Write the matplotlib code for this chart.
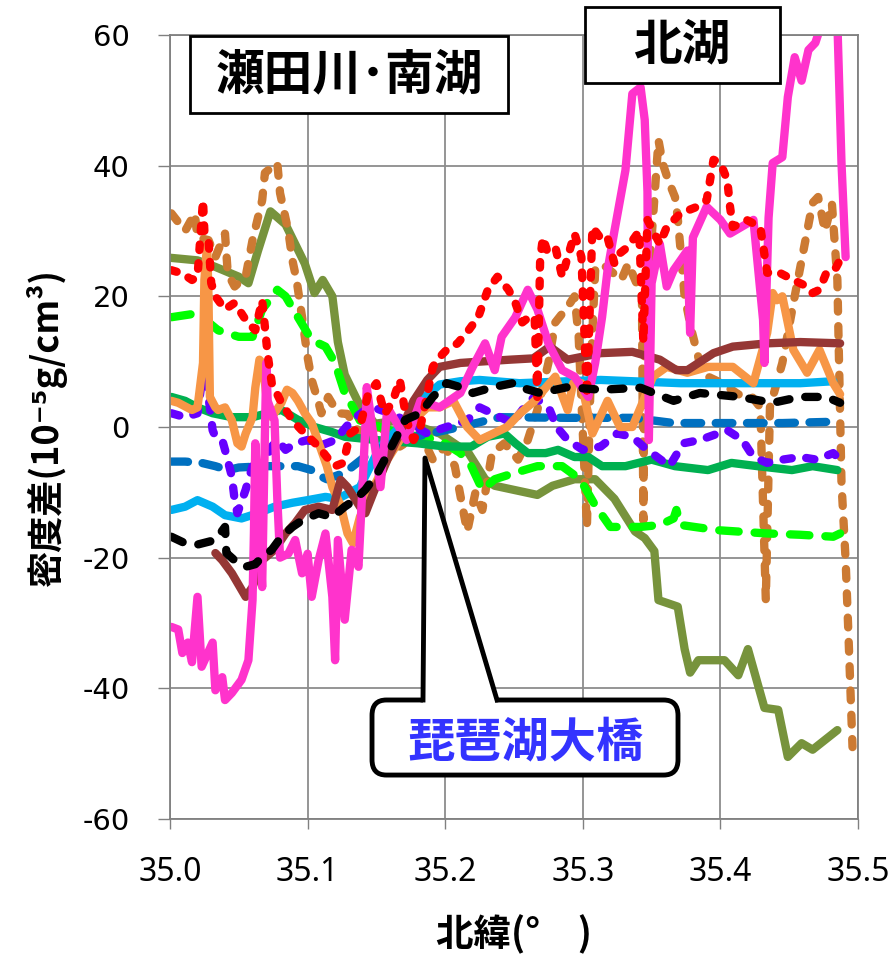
import matplotlib
matplotlib.use("Agg")
import matplotlib.pyplot as plt
from matplotlib.patches import Rectangle, FancyBboxPatch, Polygon
from matplotlib.lines import Line2D

plt.rcParams['font.family'] = ['Noto Sans CJK JP', 'DejaVu Sans']
plt.rcParams['lines.scale_dashes'] = False

# (latitude, density difference)
olive = [(35.000, 25.9), (35.020, 25.5), (35.033, 24.5), (35.050, 23), (35.057, 22), (35.064, 27),
         (35.073, 33), (35.084, 31), (35.098, 25), (35.105, 20.5), (35.111, 22.5), (35.118, 20),
         (35.122, 13), (35.127, 8), (35.137, 3.7), (35.149, 0.5), (35.167, 1), (35.196, -1),
         (35.217, -4), (35.229, -8), (35.236, -9), (35.267, -10.4), (35.278, -9), (35.294, -8),
         (35.309, -8), (35.323, -11), (35.338, -16), (35.345, -17), (35.352, -19), (35.355, -26.5),
         (35.369, -27.5), (35.374, -34), (35.378, -37.6), (35.384, -35.7), (35.403, -35.7),
         (35.413, -38), (35.420, -34), (35.432, -43), (35.442, -43.3), (35.449, -50.5),
         (35.459, -48.4), (35.467, -49.4), (35.485, -46.4)]

peru = [(35.001, 32.7), (35.011, 30), (35.018, 32.7), (35.020, 29), (35.028, 28.6), (35.033, 26),
        (35.040, 29.6), (35.042, 23.5), (35.047, 21.5), (35.055, 23), (35.060, 28.6), (35.067, 34.7),
        (35.069, 38.9), (35.078, 40.4), (35.080, 35.8), (35.086, 30), (35.089, 25.5), (35.092, 22.5),
        (35.096, 16.8), (35.100, 10.7), (35.103, 7.2), (35.108, 3.7), (35.110, 2.1), (35.115, 4.6),
        (35.122, 2.1), (35.129, 2), (35.138, -1), (35.153, 0), (35.167, -3), (35.182, -1),
        (35.191, -5), (35.200, -3), (35.207, -6), (35.216, -16), (35.222, -10), (35.227, -12.7),
        (35.234, -4), (35.243, -2.5), (35.253, -5), (35.260, -2), (35.267, 2.6), (35.275, 9.8),
        (35.280, 16), (35.289, 18.4), (35.294, 20), (35.297, 13.8), (35.299, 4), (35.303, -15.3),
        (35.306, 10), (35.309, 24), (35.314, 25), (35.328, 22.5), (35.333, 25), (35.343, 20),
        (35.344, -14.3), (35.345, 18), (35.347, 20), (35.355, 43.9), (35.358, 40.4), (35.362, 37.8),
        (35.367, 35.2), (35.369, 32), (35.374, 20), (35.379, 14.8), (35.385, 9.8), (35.391, 7.7),
        (35.401, 6.7), (35.413, 5), (35.423, 4.6), (35.429, 3), (35.433, -26.5), (35.436, 3),
        (35.445, 9.8), (35.454, 20), (35.467, 34.3), (35.471, 35.2), (35.476, 30), (35.481, 34.3),
        (35.485, 22.5), (35.488, -8.6), (35.491, -20.4), (35.493, -31.5), (35.496, -49)]

lime = [(35.001, 16.8), (35.020, 17.4), (35.035, 14.8), (35.050, 13.8), (35.060, 13.8), (35.067, 18),
        (35.078, 21), (35.084, 20), (35.093, 16.8), (35.103, 13.3), (35.113, 12.3), (35.120, 9.8),
        (35.127, 5.2), (35.133, 3), (35.138, 1), (35.167, -1), (35.196, -2), (35.211, -4),
        (35.219, -6), (35.227, -9.6), (35.236, -8), (35.251, -7), (35.267, -6), (35.285, -6),
        (35.298, -8), (35.309, -12), (35.320, -15.3), (35.342, -15.3), (35.356, -15), (35.366, -14),
        (35.368, -12.7), (35.371, -15), (35.398, -15.8), (35.434, -16.3), (35.458, -16.5),
        (35.482, -16.8), (35.487, -16.3)]

green = [(35.001, 4.6), (35.011, 4), (35.020, 3), (35.031, 2.1), (35.045, 1.5), (35.060, 1.5),
         (35.069, 2), (35.081, 2.6), (35.093, 1.1), (35.105, 0), (35.118, -0.8), (35.127, -1.5),
         (35.150, -2), (35.180, -2.5), (35.200, -3), (35.219, -3), (35.231, -1.5), (35.243, -1),
         (35.251, -2.5), (35.260, -4), (35.273, -4), (35.282, -3.5), (35.294, -4.6), (35.304, -4.6),
         (35.314, -6), (35.331, -6), (35.350, -5), (35.367, -6), (35.391, -6.6), (35.408, -5.5),
         (35.427, -6), (35.452, -6.6), (35.467, -6), (35.485, -6.6)]

skyblue = [(35.001, -12.7), (35.011, -12.2), (35.020, -11.2), (35.031, -12.2), (35.040, -13.5),
           (35.052, -14), (35.064, -13.2), (35.076, -12.2), (35.089, -11.6), (35.100, -11.2),
           (35.113, -10.7), (35.122, -11), (35.138, -9.2), (35.148, -5), (35.153, -3), (35.167, 0),
           (35.182, 4), (35.196, 6.5), (35.211, 7), (35.225, 7.2), (35.254, 6.7), (35.313, 7.2),
           (35.371, 6.7), (35.458, 6.7), (35.482, 7)]

blue = [(35.001, -5.3), (35.011, -5.3), (35.023, -5.5), (35.033, -6), (35.042, -6.6), (35.050, -6.2),
        (35.069, -6), (35.081, -6), (35.093, -6), (35.103, -6.6), (35.110, -7.6), (35.114, -8),
        (35.127, -7), (35.145, -4), (35.167, -2), (35.189, -1), (35.211, 0), (35.240, 1.5),
        (35.289, 1.4), (35.336, 1.4), (35.366, 0.6), (35.409, 0.6), (35.445, 0.6), (35.482, 0.8)]

violet = [(35.001, 2.1), (35.011, 1.5), (35.020, 2.1), (35.025, 9.8), (35.027, 11.3), (35.028, 4.6),
          (35.031, -0.5), (35.033, -1.5), (35.038, -2), (35.040, -3.5), (35.045, -7.6), (35.047, -11.2),
          (35.049, -13.2), (35.055, -9.6), (35.060, -6), (35.064, -7.6), (35.069, -5), (35.074, -3),
          (35.078, -2), (35.084, -3.5), (35.091, -2.5), (35.100, -2), (35.110, -2.8), (35.120, -2),
          (35.132, 1), (35.142, 2.6), (35.148, 3), (35.153, 2.6), (35.162, 2), (35.187, -1),
          (35.201, 0), (35.216, 1), (35.225, 3), (35.235, 2), (35.249, 0.6), (35.260, 3.7),
          (35.265, 4.6), (35.276, 2.6), (35.281, 0), (35.289, -2), (35.300, -3.5), (35.313, -3),
          (35.325, -1), (35.336, -1.5), (35.344, -3), (35.354, -4.6), (35.363, -6), (35.373, -2.5),
          (35.385, -2), (35.405, -0.5), (35.416, -2), (35.424, -4.6), (35.434, -5.5), (35.445, -5),
          (35.458, -4.6), (35.470, -5), (35.482, -4), (35.487, -5)]

orange = [(35.001, 4), (35.006, 3.7), (35.016, 2.6), (35.020, 3), (35.024, 9.8), (35.025, 22.5),
          (35.027, 28), (35.028, 20), (35.029, 4.6), (35.033, 3), (35.035, 2.6), (35.040, 3),
          (35.045, 1), (35.049, -2.5), (35.052, -3), (35.055, -1), (35.060, 1.5), (35.062, 6),
          (35.065, 10.3), (35.067, 9.8), (35.069, 6.7), (35.071, 3), (35.074, 1.5), (35.081, 3.7),
          (35.085, 5.7), (35.089, 5.2), (35.093, 4), (35.098, 2.1), (35.103, 0.6), (35.109, -3),
          (35.114, -6), (35.118, -9.2), (35.124, -12), (35.129, -16.3), (35.133, -17.8),
          (35.138, -13.8), (35.148, -9.2), (35.158, -5), (35.167, -2), (35.177, 1), (35.187, 3),
          (35.196, 3), (35.206, 4), (35.216, 0), (35.225, -2), (35.235, -1), (35.245, 0),
          (35.254, 2), (35.265, 4), (35.273, 6), (35.280, 7.7), (35.289, 2.6), (35.293, 6.7),
          (35.299, 6.7), (35.307, -1), (35.318, 4), (35.327, 0), (35.336, 0), (35.344, 4),
          (35.351, 7.7), (35.361, 9.2), (35.376, 8.3), (35.391, 9.2), (35.409, 9.2), (35.424, 6.7),
          (35.434, 14.4), (35.438, 20.5), (35.441, 19.4), (35.445, 20), (35.453, 11.8),
          (35.463, 8.3), (35.472, 11.8), (35.482, 6.7), (35.487, 5)]

pink = [(35.001, -30.6), (35.006, -31), (35.009, -34.6), (35.013, -33), (35.016, -36), (35.020, -26),
        (35.023, -36.7), (35.031, -33), (35.033, -40.3), (35.038, -38.3), (35.040, -41.8),
        (35.045, -40.7), (35.052, -38.7), (35.057, -35.7), (35.060, -26.5), (35.061, -16.3),
        (35.062, -2.5), (35.065, -15), (35.067, -24.5), (35.069, -1), (35.070, 9.8), (35.071, 4),
        (35.076, 1), (35.078, -11), (35.080, -20), (35.086, -19.4), (35.091, -17.3), (35.096, -22.4),
        (35.100, -19.4), (35.103, -26), (35.108, -20.4), (35.113, -16.3), (35.118, -26),
        (35.120, -35.7), (35.122, -17.3), (35.127, -29.5), (35.132, -18.8), (35.137, -21.4),
        (35.140, -8.6), (35.142, 0), (35.143, 6.1), (35.153, -9.2), (35.158, 3), (35.172, -2),
        (35.182, 4), (35.196, 3), (35.211, 5.2), (35.220, 9.2), (35.229, 12.8), (35.236, 8.7),
        (35.241, 13.8), (35.251, 16.8), (35.260, 21), (35.267, 18), (35.275, 12.8), (35.285, 8.7),
        (35.294, 7.7), (35.304, 4.6), (35.309, 9.8), (35.314, 16.8), (35.318, 24), (35.323, 30),
        (35.331, 39.3), (35.336, 51), (35.342, 52), (35.345, 47), (35.347, 36), (35.348, -2),
        (35.350, 22), (35.356, 28), (35.361, 21.5), (35.366, 24), (35.376, 27), (35.378, 14.4),
        (35.380, 29), (35.390, 33.7), (35.400, 31.7), (35.407, 29.6), (35.424, 31.7),
        (35.431, 16.4), (35.432, 9.8), (35.435, 32), (35.438, 40.4), (35.445, 41.3),
        (35.449, 50.5), (35.454, 56.6), (35.459, 53), (35.464, 57.7), (35.469, 58.8),
        (35.474, 62), (35.485, 62), (35.488, 40.4), (35.491, 26)]

maroon = [(35.033, -19.3), (35.038, -20.4), (35.045, -22.4), (35.055, -26), (35.060, -24.5),
          (35.067, -20.4), (35.076, -18.8), (35.084, -16.3), (35.091, -14.7), (35.098, -12.7),
          (35.108, -12.2), (35.118, -12.7), (35.124, -8.1), (35.129, -9.2), (35.138, -12.2),
          (35.142, -13.2), (35.148, -10), (35.158, -5), (35.167, -1), (35.177, 4), (35.187, 7.2),
          (35.196, 9.2), (35.211, 9.8), (35.225, 10), (35.247, 10.3), (35.264, 10.5), (35.276, 12.3),
          (35.289, 10.3), (35.313, 11.3), (35.336, 11.5), (35.356, 10.3), (35.368, 8.7),
          (35.376, 8.7), (35.395, 11.3), (35.409, 12.3), (35.434, 12.8), (35.458, 13), (35.487, 12.8)]

red = [(35.001, 24), (35.009, 23.5), (35.016, 22.5), (35.020, 23), (35.024, 34.7), (35.025, 30),
       (35.028, 28.6), (35.030, 22), (35.033, 20), (35.040, 18), (35.047, 19), (35.055, 16.4),
       (35.062, 14.8), (35.067, 19.4), (35.069, 15.3), (35.071, 11), (35.074, 6.7), (35.081, 3.7),
       (35.089, 1), (35.098, -1), (35.108, -3), (35.114, -4.6), (35.120, -6), (35.126, -5.5),
       (35.131, -1), (35.138, 0), (35.144, 5), (35.150, 6.7), (35.156, 2), (35.162, 4),
       (35.167, 7.2), (35.172, 1), (35.177, -2), (35.182, 0), (35.187, 5), (35.191, 9.2),
       (35.196, 10.7), (35.201, 11.8), (35.209, 12.8), (35.217, 14.8), (35.224, 16.8), (35.231, 21),
       (35.238, 23), (35.246, 21), (35.251, 19), (35.256, 16), (35.262, 17), (35.265, 16.8),
       (35.267, 4.6), (35.269, 25.6), (35.271, 29), (35.274, 27), (35.280, 27.6), (35.285, 23),
       (35.289, 26), (35.294, 29.6), (35.299, 26), (35.303, 4.6), (35.307, 30.6), (35.314, 28.6),
       (35.318, 29), (35.323, 25), (35.327, 26.6), (35.333, 27.6), (35.341, 30), (35.344, 13),
       (35.347, 31.7), (35.356, 28), (35.361, 30.6), (35.371, 32.7), (35.383, 33.7), (35.390, 34.7),
       (35.395, 40.9), (35.400, 40.4), (35.405, 37.8), (35.407, 33.7), (35.409, 30.6),
       (35.419, 31.7), (35.429, 30.6), (35.434, 23.6), (35.443, 23.6), (35.453, 22.5),
       (35.463, 21.5), (35.467, 20.5), (35.472, 21), (35.477, 23.6), (35.483, 24), (35.487, 25.6)]

black = [(35.001, -16.8), (35.011, -17.8), (35.020, -18), (35.033, -17.3), (35.040, -15.3),
         (35.041, -19.3), (35.049, -20.8), (35.055, -21.4), (35.062, -21), (35.067, -19.9),
         (35.074, -18.8), (35.081, -16.8), (35.089, -15.3), (35.096, -14.3), (35.108, -13.2),
         (35.118, -13.8), (35.127, -12.2), (35.134, -11.2), (35.142, -9.6), (35.151, -7),
         (35.161, -3), (35.171, 1.1), (35.182, 2.1), (35.191, 4.6), (35.201, 6.7), (35.211, 6.1),
         (35.220, 5.2), (35.235, 6.1), (35.249, 6.7), (35.254, 6.1), (35.269, 5.2), (35.289, 6.1),
         (35.313, 5.7), (35.342, 6), (35.366, 4), (35.385, 5.2), (35.414, 4.6), (35.438, 3.7),
         (35.458, 4.6), (35.477, 4.6), (35.487, 3.7)]

x_ticks = [35.0, 35.1, 35.2, 35.3, 35.4, 35.5]
y_ticks = [-60, -40, -20, 0, 20, 40, 60]

# series, colour, dash pattern (None = solid)
styles = [
    (olive, '#77933C', None),
    (peru, '#CC7A33', (7, 10.5)),
    (lime, '#00FF00', (14, 11.5)),
    (green, '#00B050', None),
    (skyblue, '#00B0F0', None),
    (blue, '#0070C0', (12, 10.5)),
    (violet, '#6600FF', (6, 10.5)),
    (orange, '#F79646', None),
    (maroon, '#953735', None),
    (pink, '#FF33CC', None),
    (red, '#FF0000', (4, 9.5)),
    (black, '#000000', (9, 11.5)),
]

fig = plt.figure(figsize=(8.96, 9.61), dpi=100)
ax = fig.add_axes([0.1897, 0.1478, 0.7679, 0.8158])

for data, color, dash in styles:
    xs = [p[0] for p in data]
    ys = [p[1] for p in data]
    line, = ax.plot(xs, ys, color=color, lw=6, solid_capstyle='round',
                    dash_capstyle='round', solid_joinstyle='round', dash_joinstyle='round')
    if dash is not None:
        line.set_dashes(dash)

ax.set_xlim(35.0, 35.5)
ax.set_ylim(-60, 60)
ax.set_xticks(x_ticks)
ax.set_xticklabels(['%.1f' % v for v in x_ticks], family='Noto Sans', fontsize=23)
ax.set_yticks(y_ticks)
ax.set_yticklabels([str(v) for v in y_ticks], family='DejaVu Sans', fontsize=21)
ax.tick_params(axis='y', length=9, width=1, color='#808080', pad=20)
ax.tick_params(axis='x', length=7, width=1, color='#808080', pad=20)
ax.grid(True, color='#8c8c8c', lw=1.3)
ax.set_axisbelow(True)
for s in ax.spines.values():
    s.set_color('#808080')
    s.set_linewidth(1.3)

ax.set_ylabel('密度差(10⁻⁵g/cm³)', fontsize=26, fontweight='bold',
              family=['Noto Sans CJK JP', 'DejaVu Sans'], labelpad=11)
ax.set_xlabel('北緯(°　)', fontsize=27, fontweight='bold', labelpad=18)

# region labels
fig.add_artist(Rectangle((0.2121, 0.8824), 0.3549, 0.0801, transform=fig.transFigure,
                         fc='white', ec='black', lw=2, zorder=10))
fig.text(0.3895, 0.922, '瀬田川･南湖', fontsize=35, fontweight='bold',
         ha='center', va='center', zorder=11)
fig.add_artist(Rectangle((0.6529, 0.9136), 0.2176, 0.0791, transform=fig.transFigure,
                         fc='white', ec='black', lw=2, zorder=10))
fig.text(0.7612, 0.9532, '北湖', fontsize=35, fontweight='bold',
         ha='center', va='center', zorder=11)

# callout for the bridge
fig.add_artist(FancyBboxPatch((0.4152, 0.1935), 0.3415, 0.0781,
                              boxstyle='round,pad=0,rounding_size=0.016',
                              transform=fig.transFigure, fc='white', ec='black', lw=3.5, zorder=10))
fig.add_artist(Polygon([(0.4721, 0.2680), (0.4743, 0.5234), (0.5547, 0.2680)],
                       closed=True, transform=fig.transFigure, fc='white', ec='none', zorder=11))
fig.add_artist(Line2D([0.4721, 0.4743, 0.5547], [0.2716, 0.5234, 0.2716],
                      transform=fig.transFigure, color='black', lw=3.5, zorder=12))
fig.text(0.5859, 0.2279, '琵琶湖大橋', fontsize=34, fontweight='bold', color='#3333FF',
         ha='center', va='center', zorder=13)

fig.savefig('out.png', dpi=100)
